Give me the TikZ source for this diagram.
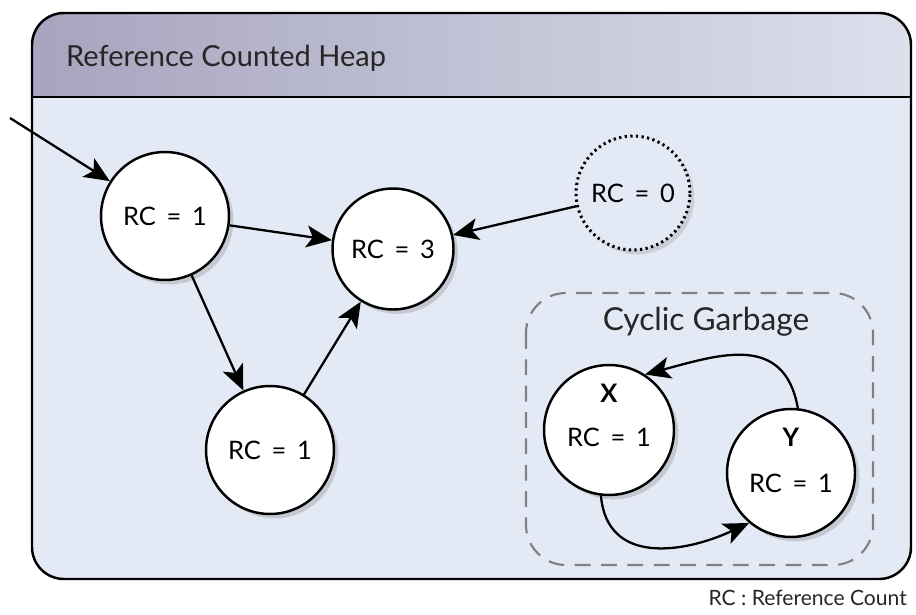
\documentclass[tikz,border=0pt]{standalone}
\usepackage{fontspec}
\setmainfont{Lato}
\usepackage{xcolor}
\usetikzlibrary{positioning, arrows.meta, shadows}

\definecolor{heapbody}{HTML}{E4EAF5}
\definecolor{headleft}{HTML}{A6A4BE}
\definecolor{headright}{HTML}{DDE0EC}
\definecolor{garbline}{HTML}{808080}

\tikzset{
  obj/.style={circle, draw=black, line width=1.4pt, fill=white, minimum size=#1,
    inner sep=0pt, font=\fontsize{14.5}{17}\selectfont,
    drop shadow={shadow xshift=2.5pt, shadow yshift=-2.5pt, opacity=0.25, fill=black!60}},
  ref/.style={-{Stealth[length=14.5pt, width=12.5pt, inset=3.5pt]}, line width=1.3pt},
  objtext/.style={font=\fontsize{14.5}{17}\selectfont, inner sep=0pt},
}

\begin{document}
\begin{tikzpicture}[x=0.02cm, y=-0.02cm]
\useasboundingbox (0,0) rectangle (916,615);

% heap box
\fill[heapbody, rounded corners=0.64cm] (32,13) rectangle (911,579);
\begin{scope}
\clip[rounded corners=0.64cm] (32,13) rectangle (911,579);
\shade[left color=headleft, right color=headright] (32,13) rectangle (911,97);
\end{scope}
\draw[line width=1.2pt] (32,97) -- (911,97);
\draw[line width=1.4pt, rounded corners=0.64cm] (32,13) rectangle (911,579);
\node[anchor=west, font=\fontsize{16.5}{20}\selectfont, text=black!85] (title) at (60,58) {Reference Counted Heap};

% cyclic garbage area
\draw[garbline, line width=1.2pt, dash pattern=on 9pt off 6pt, rounded corners=0.8cm]
  (526,293) rectangle (873,565);
\node[font=\fontsize{18}{21}\selectfont, text=black!85] (cyclic) at (706,322) {Cyclic Garbage};

% objects
\node[obj=2.56cm] (a) at (165,216) {RC \,=\, 1};
\node[obj=2.42cm] (b) at (393,249) {RC \,=\, 3};
\node[obj=2.56cm] (d) at (270,450) {RC \,=\, 1};
\node[circle, draw=black, line width=1.7pt, dash pattern=on 1.3pt off 1.9pt, fill=heapbody,
  minimum size=2.28cm, inner sep=0pt, font=\fontsize{14.5}{17}\selectfont,
  drop shadow={shadow xshift=2.5pt, shadow yshift=-2.5pt, opacity=0.2, fill=black!60}]
  (c) at (633,193) {RC \,=\, 0};
\node[obj=2.6cm] (x) at (609,430) {};
\node[objtext] (xname) at (609,393) {\textbf{X}};
\node[objtext] (xrc) at (609,437) {RC \,=\, 1};
\node[obj=2.56cm] (y) at (791,473) {};
\node[objtext] (yname) at (791,437) {\textbf{Y}};
\node[objtext] (yrc) at (791,483) {RC \,=\, 1};

% references
\coordinate (root) at (10,118);
\draw[ref] (root) -- (a);
\draw[ref] (a) -- (b);
\draw[ref] (a) -- (d);
\draw[ref] (d) -- (b);
\draw[ref] (c) -- (b);
\draw[ref] (y.84) to[out=100, in=15, looseness=1.25] (x.57);
\draw[ref] (x.263) to[out=-85, in=205, looseness=1.2] (y.230);

\node[anchor=south east, font=\fontsize{12}{14}\selectfont, text=black!85] (legend) at (913,612) {RC : Reference Count};
\end{tikzpicture}
\end{document}
